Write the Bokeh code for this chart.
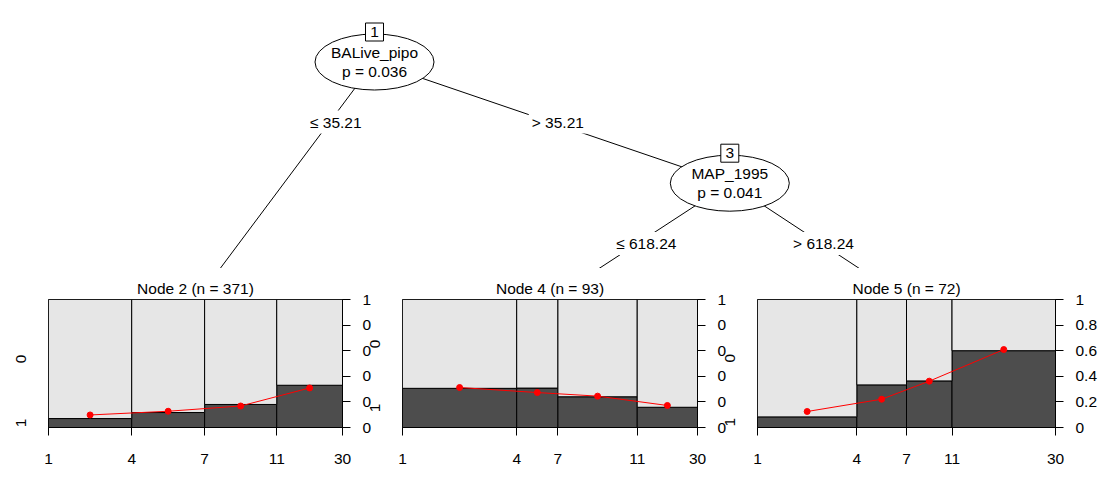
import numpy as np
from bokeh.plotting import figure
from bokeh.models import Range1d, LinearAxis, FixedTicker
from bokeh.layouts import column, row
from bokeh.core.properties import value
from bokeh.embed import file_html
from bokeh.resources import INLINE

# ---------------- data ----------------
NODE_IDS = ["1", "3"]
NODE_VARS = ["BALive_pipo", "MAP_1995"]
NODE_PVALS = ["p = 0.036", "p = 0.041"]
EDGE_LABELS = ["\u2264 35.21", "> 35.21", "\u2264 618.24", "> 618.24"]

TERM_IDS = [2, 4, 5]
BIN_LABELS = ["1", "4", "7", "11", "30"]
COUNTS_2 = [105, 92, 91, 83]
COUNTS_4 = [36, 13, 25, 19]
COUNTS_5 = [24, 12, 11, 25]
PROP_2 = [0.07, 0.117, 0.18, 0.33]
PROP_4 = [0.306, 0.308, 0.24, 0.158]
PROP_5 = [0.083, 0.333, 0.364, 0.6]
FIT_2 = [0.098, 0.127, 0.168, 0.309]
FIT_4 = [0.3125, 0.273, 0.245, 0.172]
FIT_5 = [0.125, 0.221, 0.362, 0.609]
CLASS_LABELS = ["1", "0"]
RIGHT_TICKS = [0, 0.2, 0.4, 0.6, 0.8, 1]
RIGHT_LABELS_FULL = ["0", "0.2", "0.4", "0.6", "0.8", "1"]
RIGHT_LABELS_CUT = ["0", "0", "0", "0", "0", "1"]

# ---------------- style / layout ----------------
FONT = "Liberation Sans"
FS = "15.5px"
DARK = "#4D4D4D"
LIGHT = "#E6E6E6"
TREE_H = 268
PANEL_H = 236
FRAME_TOP = 31
FRAME_BOTTOM = 77
FRAME_LEFTS = [48, 402, 757]
FRAME_WIDTHS = [297, 298, 298]
WIDTHS = [374, 367, 386]
MB_LEFT = [48, 40, 40]
MB_RIGHT = [29, 29, 48]
MARGIN_LEFT = [0, -12, -12]


def make_panel(i, node_id, counts, prop, fit, right_labels):
    n = int(sum(counts))
    edges = np.concatenate([[0], np.cumsum(counts)]).astype(int)
    left = edges[:-1]
    right = edges[1:]
    mid = (left + right) / 2.0
    p = figure(width=WIDTHS[i], height=PANEL_H,
               x_range=Range1d(0, n), y_range=Range1d(0, 1),
               output_backend="svg", toolbar_location=None,
               min_border_left=MB_LEFT[i], min_border_right=MB_RIGHT[i],
               min_border_top=FRAME_TOP, min_border_bottom=FRAME_BOTTOM,
               title=f"Node {node_id} (n = {n})")
    p.margin = (0, 0, 0, MARGIN_LEFT[i])
    p.border_fill_color = None
    p.background_fill_color = None
    p.outline_line_color = "black"
    p.grid.visible = False
    p.title.text_font = FONT
    p.title.text_font_size = FS
    p.title.text_font_style = "normal"
    p.title.align = "center"
    p.title.standoff = 6
    p.title.text_color = "black"

    p.quad(left=left, right=right, bottom=0, top=prop,
           fill_color=DARK, line_color="black", line_width=1)
    p.quad(left=left, right=right, bottom=prop, top=1,
           fill_color=LIGHT, line_color="black", line_width=1)
    p.line(mid, fit, line_color="red", line_width=1)
    p.scatter(mid, fit, size=6, fill_color="red", line_color="red")

    xa = p.xaxis[0]
    xa.ticker = FixedTicker(ticks=[int(e) for e in edges])
    xa.major_label_overrides = {int(e): lab for e, lab in zip(edges, BIN_LABELS)}
    xa.major_tick_out = 8
    xa.major_tick_in = 0
    xa.minor_tick_line_color = None
    xa.axis_line_color = "black"
    xa.major_tick_line_color = "black"
    xa.major_label_standoff = 18
    xa.major_label_text_font = FONT
    xa.major_label_text_font_size = FS
    xa.major_label_text_color = "black"

    ya = p.yaxis[0]
    t_dark = prop[0] / 2.0
    t_light = (prop[0] + 1.0) / 2.0
    ya.ticker = FixedTicker(ticks=[t_dark, t_light])
    ya.major_label_overrides = {t_dark: CLASS_LABELS[0], t_light: CLASS_LABELS[1]}
    ya.axis_line_color = None
    ya.major_tick_line_color = None
    ya.minor_tick_line_color = None
    ya.major_label_orientation = "vertical"
    ya.major_label_standoff = 16
    ya.major_label_text_font = FONT
    ya.major_label_text_font_size = FS
    ya.major_label_text_color = "black"

    ra = LinearAxis(ticker=FixedTicker(ticks=RIGHT_TICKS),
                    major_label_overrides=dict(zip(RIGHT_TICKS, right_labels)))
    ra.major_tick_out = 8
    ra.major_tick_in = 0
    ra.minor_tick_line_color = None
    ra.axis_line_color = "black"
    ra.major_label_standoff = 12
    ra.major_label_text_font = FONT
    ra.major_label_text_font_size = FS
    ra.major_label_text_color = "black"
    p.add_layout(ra, "right")
    return p


p2 = make_panel(0, TERM_IDS[0], COUNTS_2, PROP_2, FIT_2, RIGHT_LABELS_CUT)
p4 = make_panel(1, TERM_IDS[1], COUNTS_4, PROP_4, FIT_4, RIGHT_LABELS_CUT)
p5 = make_panel(2, TERM_IDS[2], COUNTS_5, PROP_5, FIT_5, RIGHT_LABELS_FULL)

# ---------------- tree ----------------
NODE_X = [374.0, 729.3]
NODE_Y = [61.5, 182.7]
TERM_X = [FRAME_LEFTS[k] + FRAME_WIDTHS[k] / 2.0 for k in range(3)]
TERM_Y = TREE_H + FRAME_TOP
EDGE_LAB_X = [335.3, 557.3, 645.8, 823.0]
EDGE_LAB_Y = [121.6, 121.6, 243.0, 243.0]

tree = figure(width=1103, height=TREE_H, x_range=Range1d(0, 1103),
              y_range=Range1d(TREE_H, 0), output_backend="svg",
              toolbar_location=None, x_axis_type=None, y_axis_type=None,
              min_border=0)
tree.outline_line_color = None
tree.grid.visible = False

x0 = [NODE_X[0], NODE_X[0], NODE_X[1], NODE_X[1]]
y0 = [NODE_Y[0], NODE_Y[0], NODE_Y[1], NODE_Y[1]]
x1 = [TERM_X[0], NODE_X[1], TERM_X[1], TERM_X[2]]
y1 = [TERM_Y, NODE_Y[1], TERM_Y, TERM_Y]
tree.segment(x0=x0, y0=y0, x1=x1, y1=y1, line_color="black", line_width=1)

tree.ellipse(x=NODE_X, y=NODE_Y, width=119, height=56,
             fill_color="white", line_color="black", line_width=1)
tree.rect(x=NODE_X, y=[y - 30 for y in NODE_Y], width=18, height=18,
          fill_color="white", line_color="black", line_width=1)

common = dict(text_font=value(FONT), text_font_size=FS, text_color="black",
              text_align="center", text_baseline="middle")
tree.text(x=NODE_X, y=[y - 30 for y in NODE_Y], text=NODE_IDS, **common)
tree.text(x=NODE_X, y=[y - 9.5 for y in NODE_Y], text=NODE_VARS, **common)
tree.text(x=NODE_X, y=[y + 9 for y in NODE_Y], text=NODE_PVALS, **common)
tree.text(x=EDGE_LAB_X, y=EDGE_LAB_Y, text=EDGE_LABELS,
          background_fill_color="white", padding=3, **common)

layout = column(tree, row(p2, p4, p5, spacing=0), spacing=0)

open("out.html", "w").write(file_html(layout, INLINE))
